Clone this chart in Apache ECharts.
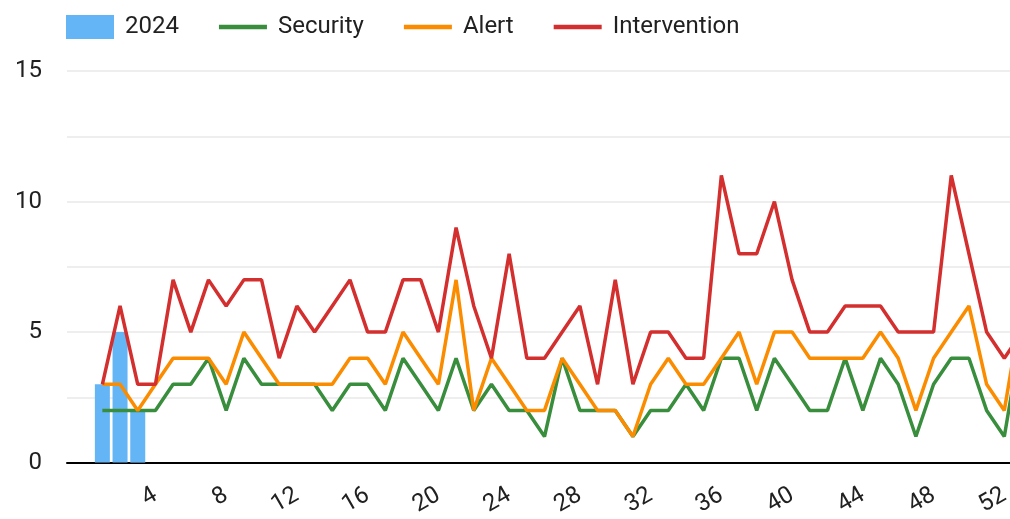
<!DOCTYPE html>
<html>
<head>
<meta charset="utf-8">
<script src="https://cdn.jsdelivr.net/npm/echarts@6/dist/echarts.min.js"></script>
<style>
  html, body { margin: 0; padding: 0; background: #fff; overflow: hidden; }
  /* 图比窗口宽一点，右边被截掉 */
  #chart { width: 1030px; height: 519px; }
</style>
</head>
<body>
<div id="chart"></div>
<script>
// 周次
const weeks = [1, 2, 3, 4, 5, 6, 7, 8, 9, 10, 11, 12, 13, 14, 15, 16, 17, 18, 19, 20,
  21, 22, 23, 24, 25, 26, 27, 28, 29, 30, 31, 32, 33, 34, 35, 36, 37, 38, 39, 40,
  41, 42, 43, 44, 45, 46, 47, 48, 49, 50, 51, 52, 53];

// 2024 柱状（只有前三周）
const bars2024 = [3, 5, 2];

const security = [2, 2, 2, 2, 3, 3, 4, 2, 4, 3, 3, 3, 3, 2, 3, 3, 2, 4, 3, 2,
  4, 2, 3, 2, 2, 1, 4, 2, 2, 2, 1, 2, 2, 3, 2, 4, 4, 2, 4, 3,
  2, 2, 4, 2, 4, 3, 1, 3, 4, 4, 2, 1, 5];

const alert = [3, 3, 2, 3, 4, 4, 4, 3, 5, 4, 3, 3, 3, 3, 4, 4, 3, 5, 4, 3,
  7, 2, 4, 3, 2, 2, 4, 3, 2, 2, 1, 3, 4, 3, 3, 4, 5, 3, 5, 5,
  4, 4, 4, 4, 5, 4, 2, 4, 5, 6, 3, 2, 6];

const intervention = [3, 6, 3, 3, 7, 5, 7, 6, 7, 7, 4, 6, 5, 6, 7, 5, 5, 7, 7, 5,
  9, 6, 4, 8, 4, 4, 5, 6, 3, 7, 3, 5, 5, 4, 4, 11, 8, 8, 10, 7,
  5, 5, 6, 6, 6, 5, 5, 5, 11, 8, 5, 4, 5];

const yTicks = [0, 5, 10, 15];

// 前面空两格
const lead = ['', ''];
const categories = lead.concat(weeks.map(String));
const pad = arr => lead.map(() => null).concat(arr);

const chart = echarts.init(document.getElementById('chart'));
const font = 'Roboto';
const lineIcon = 'path://M0,0H48V4.5H0Z';

chart.setOption({
  animation: false,
  textStyle: { fontFamily: font },
  legend: {
    left: 66,
    top: 15,
    padding: 0,
    itemWidth: 48,
    itemHeight: 24,
    itemGap: 40,
    textStyle: { fontSize: 24, color: '#212121', fontFamily: font, padding: [0, 0, 0, 6] },
    data: [
      { name: '2024', icon: 'rect' },
      { name: 'Security', icon: lineIcon },
      { name: 'Alert', icon: lineIcon },
      { name: 'Intervention', icon: lineIcon }
    ]
  },
  grid: { left: 67, right: 8, top: 71, bottom: 53, containLabel: false },
  xAxis: {
    type: 'category',
    boundaryGap: false,
    data: categories,
    axisLine: { lineStyle: { color: '#000', width: 2 } },
    axisTick: { show: false },
    axisLabel: {
      interval: (idx, val) => val !== '' && Number(val) % 4 === 0,
      rotate: 30,
      margin: 31,
      fontSize: 24,
      color: '#212121',
      fontFamily: font
    },
    splitLine: { show: false }
  },
  yAxis: {
    type: 'value',
    min: 0,
    max: 15,
    interval: 2.5,
    axisLine: { show: false },
    axisTick: { show: false },
    axisLabel: {
      margin: 25,
      fontSize: 24,
      color: '#212121',
      fontFamily: font,
      formatter: v => (yTicks.includes(v) ? String(v) : '')
    },
    splitLine: { lineStyle: { color: '#eeeeee', width: 2 } }
  },
  series: [
    {
      name: '2024',
      type: 'bar',
      data: pad(bars2024),
      barWidth: 15,
      itemStyle: { color: '#64B5F6' }
    },
    {
      name: 'Security',
      type: 'line',
      data: pad(security),
      symbol: 'none',
      lineStyle: { color: '#388E3C', width: 3.5 },
      itemStyle: { color: '#388E3C' }
    },
    {
      name: 'Alert',
      type: 'line',
      data: pad(alert),
      symbol: 'none',
      lineStyle: { color: '#FB8C00', width: 3.5 },
      itemStyle: { color: '#FB8C00' }
    },
    {
      name: 'Intervention',
      type: 'line',
      data: pad(intervention),
      symbol: 'none',
      lineStyle: { color: '#D32F2F', width: 3.5 },
      itemStyle: { color: '#D32F2F' }
    }
  ]
});
</script>
</body>
</html>
